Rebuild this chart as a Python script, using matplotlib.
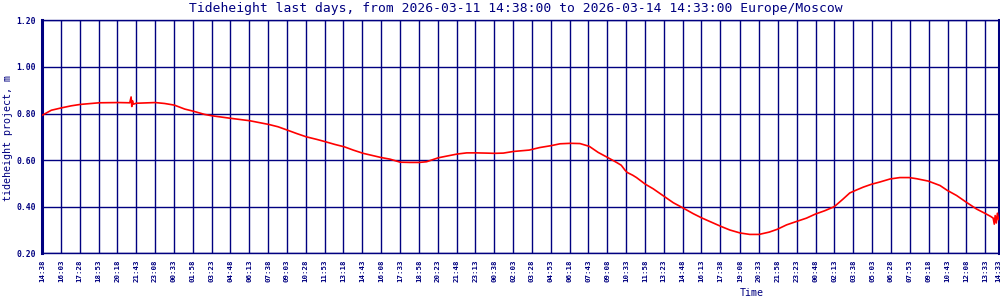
import numpy as np
import matplotlib
matplotlib.use('Agg')
import matplotlib.pyplot as plt
from matplotlib import rcParams

rcParams['font.family'] = 'DejaVu Sans Mono'

navy = '#000080'

title = 'Tideheight last days, from 2026-03-11 14:38:00 to 2026-03-14 14:33:00 Europe/Moscow'

# minutes since 2026-03-11 14:38 and tide height (m)
elapsed_min = [0, 42, 87, 132, 173, 258, 344, 396, 402, 405, 408, 412, 425, 511, 553,
               597, 644, 682, 734, 768, 854, 937, 1023, 1065, 1106, 1149, 1192,
               1239, 1278, 1322, 1364, 1404, 1449, 1494, 1530, 1570, 1616, 1660,
               1702, 1735, 1788, 1825, 1873, 1916, 1959, 2006, 2040, 2081, 2126,
               2198, 2246, 2297, 2337, 2383, 2427, 2469, 2509, 2554, 2592, 2613,
               2630, 2640, 2665, 2682, 2721, 2757, 2807, 2848, 2893, 2938, 2978,
               3021, 3064, 3103, 3150, 3193, 3235, 3281, 3317, 3359, 3402, 3449,
               3488, 3532, 3574, 3614, 3644, 3675, 3705, 3741, 3780, 3826, 3870,
               3912, 3946, 3998, 4051, 4084, 4126, 4170, 4216, 4255, 4280, 4291,
               4296, 4300, 4305, 4310, 4315]
height_m = [0.792, 0.814, 0.824, 0.833, 0.839, 0.846, 0.847, 0.846, 0.871, 0.830,
            0.855, 0.840, 0.844, 0.847, 0.843, 0.836, 0.819, 0.810, 0.796, 0.790,
            0.779, 0.769, 0.753, 0.743, 0.729, 0.714, 0.700, 0.689, 0.679, 0.667,
            0.657, 0.643, 0.629, 0.619, 0.611, 0.604, 0.591, 0.590, 0.590, 0.593,
            0.610, 0.617, 0.626, 0.631, 0.631, 0.630, 0.629, 0.630, 0.637, 0.643,
            0.654, 0.662, 0.670, 0.672, 0.671, 0.659, 0.633, 0.610, 0.590, 0.578,
            0.557, 0.547, 0.535, 0.525, 0.497, 0.477, 0.444, 0.417, 0.394, 0.370,
            0.351, 0.333, 0.315, 0.300, 0.287, 0.281, 0.281, 0.291, 0.303, 0.322,
            0.336, 0.351, 0.368, 0.383, 0.400, 0.433, 0.459, 0.472, 0.484, 0.496,
            0.506, 0.519, 0.525, 0.525, 0.520, 0.510, 0.491, 0.470, 0.448, 0.419,
            0.390, 0.371, 0.358, 0.351, 0.325, 0.362, 0.330, 0.372, 0.345]

tick_labels = ['14:38', '16:03', '17:28', '18:53', '20:18', '21:43', '23:08', '00:33',
               '01:58', '03:23', '04:48', '06:13', '07:38', '09:03', '10:28', '11:53',
               '13:18', '14:43', '16:08', '17:33', '18:58', '20:23', '21:48', '23:13',
               '00:38', '02:03', '03:28', '04:53', '06:18', '07:43', '09:08', '10:33',
               '11:58', '13:23', '14:48', '16:13', '17:38', '19:08', '20:33', '21:58',
               '23:23', '00:48', '02:13', '03:38', '05:03', '06:28', '07:53', '09:18',
               '10:43', '12:08', '13:33', '14:33']

y_ticks = [0.20, 0.40, 0.60, 0.80, 1.00, 1.20]

# tick positions in minutes from the clock labels (wrapping at midnight)
clock = [int(t[:2]) * 60 + int(t[3:]) for t in tick_labels]
tick_pos = [0]
for a, b in zip(clock[:-1], clock[1:]):
    tick_pos.append(tick_pos[-1] + (b - a) % 1440)

fig = plt.figure(figsize=(10, 3), dpi=100)
ax = fig.add_axes([0.042, 0.1557, 0.9565, 0.7766])

ax.set_xlim(0, tick_pos[-1])
ax.set_ylim(0.2, 1.2)

ax.set_xticks(tick_pos)
ax.set_xticklabels(tick_labels, rotation=90, fontsize=5.3, fontweight='bold',
                   color=navy, va='top')
ax.set_yticks(y_ticks)
ax.set_yticklabels(['%.2f' % v for v in y_ticks], fontsize=5.8,
                   fontweight='bold', color=navy)
ax.tick_params(length=0, pad=4.5)

ax.grid(True, color=navy, linewidth=1.0)
ax.set_axisbelow(True)
for s in ['top', 'bottom']:
    ax.spines[s].set_color(navy)
    ax.spines[s].set_linewidth(1.0)
for s in ['left', 'right']:
    ax.spines[s].set_color(navy)
    ax.spines[s].set_linewidth(2.2)

ax.plot(elapsed_min, height_m, color='red', linewidth=1.2, zorder=3)

fig.text(0.516, 0.972, title, ha='center', va='center', fontsize=9.4, color=navy)
fig.text(0.008, 0.54, 'tideheight project, m', rotation=90, ha='center',
         va='center', fontsize=7.2, color=navy)
fig.text(0.752, 0.022, 'Time', ha='center', va='center', fontsize=7.2, color=navy)

fig.savefig('out.png', dpi=100)
